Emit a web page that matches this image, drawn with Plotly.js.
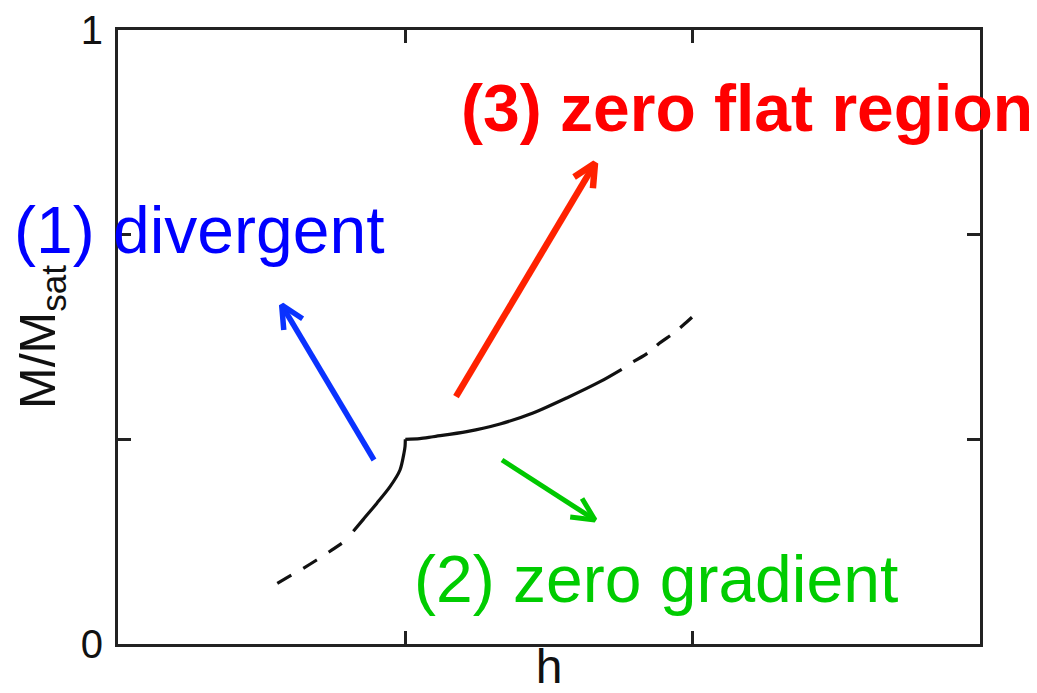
<!DOCTYPE html>
<html>
<head>
<meta charset="utf-8">
<script src="https://cdn.plot.ly/plotly-3.0.1.min.js"></script>
<style>
  html, body { margin: 0; padding: 0; background: #ffffff; }
  #chart { width: 1037px; height: 693px; }
</style>
</head>
<body>
<div id="chart"></div>
<script>
// Magnetisation curve M/M_sat against field h around the critical point (h = 1, M = 1/3)
const lowerDashedH = [0.5544, 0.6045, 0.6449, 0.6915, 0.7354, 0.7820];
const lowerDashedM = [0.0989, 0.1124, 0.1233, 0.1368, 0.1503, 0.1650];

// below the critical point: slope diverges as h -> 1
const lowerSolidH = [0.819, 0.8537, 0.9004, 0.9467, 0.9814, 0.9954, 0.999, 1.0];
const lowerSolidM = [0.1837, 0.2030, 0.2290, 0.2562, 0.2834, 0.3111, 0.322, 0.3334];

// above the critical point: slope starts at zero
const upperSolidH = [1.0, 1.05, 1.0963, 1.2136, 1.3295, 1.4444, 1.5617, 1.6776, 1.753];
const upperSolidM = [0.3334, 0.3345, 0.3376, 0.3458, 0.3583, 0.3762, 0.4007, 0.4272, 0.4474];

const upperDashedH = [1.7934, 1.8456, 1.8839, 1.9326, 1.9674, 2.0022];
const upperDashedM = [0.4598, 0.4744, 0.4897, 0.5060, 0.5195, 0.5342];

// Arrows: tail and tip positions in (h, M/M_sat)
const arrowNames  = ['divergent', 'zero gradient', 'zero flat region'];
const arrowTailH  = [0.891, 1.3364, 1.1763];
const arrowTailM  = [0.2997, 0.2997, 0.4028];
const arrowTipH   = [0.5697, 1.6601, 1.6601];
const arrowTipM   = [0.5521, 0.2020, 0.7829];
const arrowColors = ['#0a32ff', '#00c800', '#ff2200'];
const arrowWidths = [5.5, 5, 6.5];

// Labels
const labelTexts  = ['(1) divergent', '(2) zero gradient', '(3) zero flat region'];
const labelColors = ['#0000ff', '#00cc00', '#ff0000'];

const yLabelVals = [0, 1];
const yLabelText = ['0', '1'];
const yTickVals  = [1/3, 2/3];
const xTickVals  = [1, 2];

const W = 1037, H = 693;
const margin = {l: 118, r: 57, t: 30, b: 49, pad: 0};
const plotW = W - margin.l - margin.r;
const plotH = H - margin.t - margin.b;
const xRange = [0, 3], yRange = [0, 1];
const pxPerX = plotW / (xRange[1] - xRange[0]);
const pxPerY = plotH / (yRange[1] - yRange[0]);

const traces = [];
const curveColor = '#111111';
const curveWidth = 3.2;

traces.push({x: lowerDashedH, y: lowerDashedM, mode: 'lines', type: 'scatter', yaxis: 'y2',
  line: {color: curveColor, width: curveWidth, dash: '16px,14px', shape: 'spline'},
  hoverinfo: 'skip', showlegend: false});
traces.push({x: lowerSolidH, y: lowerSolidM, mode: 'lines', type: 'scatter',
  line: {color: curveColor, width: curveWidth, shape: 'spline', smoothing: 0.8},
  hoverinfo: 'skip', showlegend: false});
traces.push({x: upperSolidH, y: upperSolidM, mode: 'lines', type: 'scatter',
  line: {color: curveColor, width: curveWidth, shape: 'spline', smoothing: 0.8},
  hoverinfo: 'skip', showlegend: false});
traces.push({x: upperDashedH, y: upperDashedM, mode: 'lines', type: 'scatter',
  line: {color: curveColor, width: curveWidth, dash: '16px,13px', shape: 'spline'},
  hoverinfo: 'skip', showlegend: false});

// Open V-shaped arrow heads, built in screen space then mapped back to axis units
const headLen = 25, headAngle = 26 * Math.PI / 180;
for (let i = 0; i < arrowNames.length; i++) {
  const dxp = (arrowTailH[i] - arrowTipH[i]) * pxPerX;
  const dyp = -(arrowTailM[i] - arrowTipM[i]) * pxPerY;
  const len = Math.hypot(dxp, dyp);
  const ux = dxp / len, uy = dyp / len;
  const barb = (a) => {
    const bx = ux * Math.cos(a) - uy * Math.sin(a);
    const by = ux * Math.sin(a) + uy * Math.cos(a);
    return [arrowTipH[i] + bx * headLen / pxPerX, arrowTipM[i] - by * headLen / pxPerY];
  };
  const b1 = barb(headAngle), b2 = barb(-headAngle);
  traces.push({
    x: [arrowTailH[i], arrowTipH[i], null, b1[0], arrowTipH[i], b2[0]],
    y: [arrowTailM[i], arrowTipM[i], null, b1[1], arrowTipM[i], b2[1]],
    mode: 'lines', type: 'scatter', name: arrowNames[i],
    line: {color: arrowColors[i], width: arrowWidths[i]},
    hoverinfo: 'skip', showlegend: false, cliponaxis: false
  });
}

const font = 'Liberation Sans, Arial, sans-serif';
const labelPos = [
  {x: (12 - margin.l) / plotW, y: (H - margin.b - 230) / plotH, bold: false},
  {x: (412 - margin.l) / plotW, y: (H - margin.b - 579) / plotH, bold: false},
  {x: (459 - margin.l) / plotW, y: (H - margin.b - 108) / plotH, bold: true}
];
const annotations = labelTexts.map((t, i) => ({
  text: labelPos[i].bold ? '<b>' + t + '</b>' : t,
  xref: 'paper', yref: 'paper', x: labelPos[i].x, y: labelPos[i].y,
  xanchor: 'left', yanchor: 'middle', showarrow: false,
  font: {family: font, size: 66, color: labelColors[i]}
}));

const axisCommon = {
  showline: true, linecolor: '#222222', linewidth: 3, mirror: 'ticks',
  ticks: 'inside', ticklen: 13, tickwidth: 2.5, tickcolor: '#222222',
  showgrid: false, zeroline: false, fixedrange: true
};

const layout = {
  width: W, height: H, margin: margin,
  paper_bgcolor: '#ffffff', plot_bgcolor: '#ffffff',
  font: {family: font, color: '#111111'},
  xaxis: Object.assign({}, axisCommon, {
    range: xRange, tickvals: xTickVals, showticklabels: false,
    title: {text: 'h', font: {family: font, size: 48, color: '#111111'}, standoff: 9}
  }),
  yaxis: Object.assign({}, axisCommon, {
    range: yRange, tickvals: yTickVals, showticklabels: false,
    title: {text: 'M/M<sub>sat</sub>', font: {family: font, size: 50, color: '#111111'}, standoff: 44}
  }),
  // carries the end labels 0 and 1 of the same scale
  yaxis2: {
    overlaying: 'y', side: 'left', range: yRange, tickvals: yLabelVals, ticktext: yLabelText,
    ticks: '', showline: false, showgrid: false, zeroline: false, fixedrange: true,
    tickfont: {family: font, size: 40, color: '#111111'}, ticklabelstandoff: 14
  },
  annotations: annotations,
  showlegend: false
};

Plotly.newPlot('chart', traces, layout, {displayModeBar: false, staticPlot: true});
</script>
</body>
</html>
